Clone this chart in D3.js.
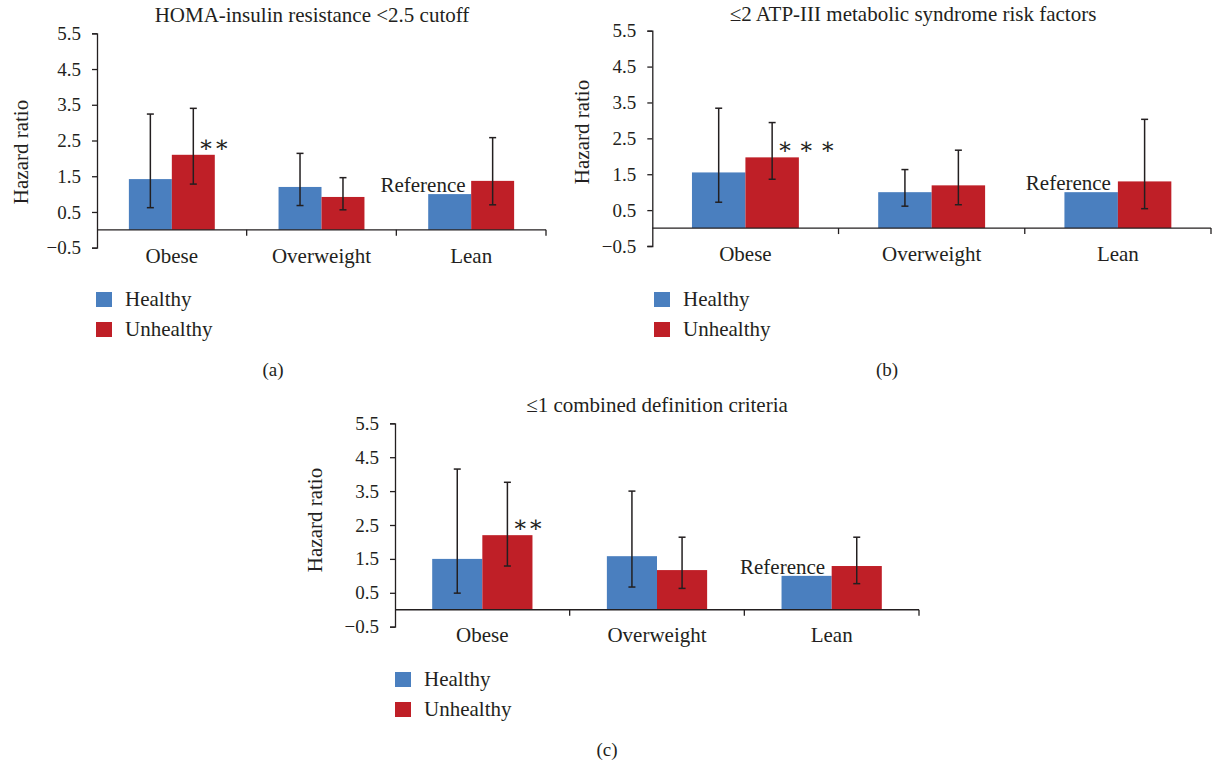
<!DOCTYPE html>
<html>
<head>
<meta charset="utf-8">
<script src="https://cdn.jsdelivr.net/npm/d3@7"></script>
<style>
  body { margin: 0; background: #fff; }
  svg text { font-family: "Liberation Serif", "DejaVu Serif", serif; fill: #231f20; }
</style>
</head>
<body>
<div id="chart"></div>
<script>
// ---- data ----
const categories = ["Obese", "Overweight", "Lean"];
const groups = ["Healthy", "Unhealthy"];
const tickValues = [-0.5, 0.5, 1.5, 2.5, 3.5, 4.5, 5.5];

// (a) HOMA-insulin resistance
const aHealthy = [1.42, 1.20, 1.00];
const aHealthyLow = [0.62, 0.68, null];
const aHealthyHigh = [3.24, 2.14, null];
const aUnhealthy = [2.10, 0.92, 1.37];
const aUnhealthyLow = [1.28, 0.56, 0.70];
const aUnhealthyHigh = [3.40, 1.46, 2.58];
const aStars = ["∗∗", "", ""];

// (b) ATP-III risk factors
const bHealthy = [1.55, 1.00, 1.00];
const bHealthyLow = [0.72, 0.61, null];
const bHealthyHigh = [3.34, 1.63, null];
const bUnhealthy = [1.97, 1.19, 1.30];
const bUnhealthyLow = [1.36, 0.65, 0.54];
const bUnhealthyHigh = [2.94, 2.17, 3.03];
const bStars = ["∗ ∗ ∗", "", ""];

// (c) combined definition
const cHealthy = [1.50, 1.58, 1.00];
const cHealthyLow = [0.49, 0.67, null];
const cHealthyHigh = [4.15, 3.50, null];
const cUnhealthy = [2.20, 1.17, 1.29];
const cUnhealthyLow = [1.29, 0.63, 0.77];
const cUnhealthyHigh = [3.76, 2.14, 2.14];
const cStars = ["∗∗", "", ""];

const refIndex = 2;
const colors = {Healthy: "#4a7fbf", Unhealthy: "#bf1f27"};

const panels = [
  {title: "HOMA-insulin resistance <2.5 cutoff", tag: "(a)",
   healthy: [aHealthy, aHealthyLow, aHealthyHigh], unhealthy: [aUnhealthy, aUnhealthyLow, aUnhealthyHigh], stars: aStars,
   left: 97, right: 546, top: 33.3, bottom: 247.7, titleX: 312, titleY: 22,
   ylabX: 21, ylabY: 152, legX: 96, legY: 292, tagX: 273, tagY: 376},
  {title: "≤2 ATP-III metabolic syndrome risk factors", tag: "(b)",
   healthy: [bHealthy, bHealthyLow, bHealthyHigh], unhealthy: [bUnhealthy, bUnhealthyLow, bUnhealthyHigh], stars: bStars,
   left: 652.3, right: 1211, top: 30.7, bottom: 246, titleX: 913, titleY: 21,
   ylabX: 582, ylabY: 132, legX: 654, legY: 292, tagX: 887, tagY: 376},
  {title: "≤1 combined definition criteria", tag: "(c)",
   healthy: [cHealthy, cHealthyLow, cHealthyHigh], unhealthy: [cUnhealthy, cUnhealthyLow, cUnhealthyHigh], stars: cStars,
   left: 395, right: 919, top: 423.3, bottom: 626.7, titleX: 657, titleY: 412,
   ylabX: 315, ylabY: 520, legX: 395, legY: 672, tagX: 607, tagY: 756}
];

const width = 1213, height = 761;
const svg = d3.select("#chart").append("svg")
  .attr("width", width)
  .attr("height", height);

panels.forEach(p => {
  const g = svg.append("g");

  const y = d3.scaleLinear().domain([-0.5, 5.5]).range([p.bottom, p.top]);
  const x = d3.scaleBand().domain(categories).range([p.left, p.right]);
  const xInner = d3.scaleBand().domain(groups).range([0, x.bandwidth()])
                   .paddingInner(0).paddingOuter(0.742);

  // y axis
  const yAxis = d3.axisLeft(y)
                  .tickValues(tickValues)
                  .tickFormat(d3.format(".1f"))
                  .tickSize(5)
                  .tickPadding(11);
  const ya = g.append("g")
    .attr("transform", `translate(${p.left},0)`)
    .call(yAxis);
  ya.select(".domain").attr("stroke", "#231f20").attr("stroke-width", 1.3);
  ya.selectAll(".tick line").attr("stroke", "#231f20").attr("stroke-width", 1.3);
  ya.selectAll(".tick text").attr("font-size", 19).attr("fill", "#231f20")
    .style("font-family", "Liberation Serif, serif");

  // bars
  const rows = categories.map((c, i) => groups.map(gr => {
    const src = gr === "Healthy" ? p.healthy : p.unhealthy;
    return {cat: c, i: i, group: gr, value: src[0][i], low: src[1][i], high: src[2][i]};
  })).flat();

  g.selectAll(".bar")
    .data(rows)
    .enter()
    .append("rect")
    .attr("class", "bar")
    .attr("x", d => x(d.cat) + xInner(d.group))
    .attr("y", d => y(d.value))
    .attr("width", xInner.bandwidth())
    .attr("height", d => y(0) - y(d.value))
    .attr("fill", d => colors[d.group]);

  // error bars
  const errs = rows.filter(d => d.low !== null);
  const cx = d => x(d.cat) + xInner(d.group) + xInner.bandwidth() / 2;
  const eg = g.selectAll(".err").data(errs).enter().append("g").attr("class", "err")
    .attr("stroke", "#231f20").attr("stroke-width", 1.5);
  eg.append("line").attr("x1", cx).attr("x2", cx).attr("y1", d => y(d.low)).attr("y2", d => y(d.high));
  eg.append("line").attr("x1", d => cx(d) - 3.5).attr("x2", d => cx(d) + 3.5).attr("y1", d => y(d.low)).attr("y2", d => y(d.low));
  eg.append("line").attr("x1", d => cx(d) - 3.5).attr("x2", d => cx(d) + 3.5).attr("y1", d => y(d.high)).attr("y2", d => y(d.high));

  // x axis line at zero
  const xAxis = d3.axisBottom(x).tickSize(0).tickFormat("");
  const xa = g.append("g")
    .attr("transform", `translate(0,${y(0)})`)
    .call(xAxis);
  xa.select(".domain").attr("stroke", "#231f20").attr("stroke-width", 1.3)
    .attr("d", `M${p.left},0H${p.right}`);
  xa.selectAll(".tick").remove();
  // category separators
  const seps = categories.map(c => x(c) + x.bandwidth());
  xa.selectAll(".sep").data(seps).enter().append("line")
    .attr("x1", d => d).attr("x2", d => d).attr("y1", 0).attr("y2", 6)
    .attr("stroke", "#231f20").attr("stroke-width", 1.3);

  // category labels
  g.selectAll(".cat").data(categories).enter().append("text")
    .attr("x", c => x(c) + x.bandwidth() / 2)
    .attr("y", y(-0.5) + 15)
    .attr("text-anchor", "middle")
    .attr("font-size", 21)
    .text(c => c);

  // significance stars
  rows.filter(d => d.group === "Unhealthy" && p.stars[d.i]).forEach(d => {
    g.append("text")
      .attr("x", cx(d) + 5)
      .attr("y", y(d.value) - 3)
      .attr("font-size", 23)
      .text(p.stars[d.i]);
  });

  // reference label
  const ref = rows.find(d => d.i === refIndex && d.group === "Healthy");
  g.append("text")
    .attr("x", x(ref.cat) + xInner(ref.group) + xInner.bandwidth() * 0.87)
    .attr("y", y(ref.value) - 2)
    .attr("text-anchor", "end")
    .attr("font-size", 21)
    .text("Reference");

  // title
  g.append("text")
    .attr("x", p.titleX).attr("y", p.titleY)
    .attr("text-anchor", "middle")
    .attr("font-size", 21)
    .text(p.title);

  // y label
  g.append("text")
    .attr("transform", `translate(${p.ylabX},${p.ylabY}) rotate(-90)`)
    .attr("text-anchor", "middle")
    .attr("dy", "0.35em")
    .attr("font-size", 21)
    .text("Hazard ratio");

  // legend
  const leg = g.selectAll(".leg").data(groups).enter().append("g")
    .attr("transform", (d, i) => `translate(${p.legX},${p.legY + i * 30})`);
  leg.append("rect").attr("width", 16).attr("height", 15).attr("fill", d => colors[d]);
  leg.append("text").attr("x", 29).attr("y", 14).attr("font-size", 21).text(d => d);

  // panel tag
  g.append("text")
    .attr("x", p.tagX).attr("y", p.tagY)
    .attr("text-anchor", "middle")
    .attr("font-size", 19)
    .text(p.tag);
});
</script>
</body>
</html>
